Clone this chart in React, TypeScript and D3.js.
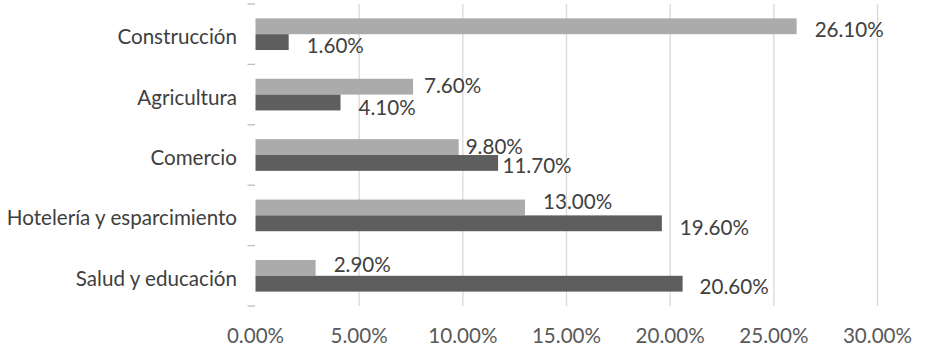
import React from "react";
import * as d3 from "d3";

const categories = ["Construcción", "Agricultura", "Comercio", "Hotelería y esparcimiento", "Salud y educación"];
const seriesLight = [26.1, 7.6, 9.8, 13.0, 2.9];
const seriesDark = [1.6, 4.1, 11.7, 19.6, 20.6];
const xTicks = [0, 5, 10, 15, 20, 25, 30];

// label nudges (layout only)
const lightGap = [18, 11, 7, 18, 18];
const lightDy = [3.3, -0.5, 0, -5.5, -3];
const darkGap = [18, 18, 4.4, 18, 17];
const darkDy = [3.5, 5.5, 3.3, 4.5, 2.8];

const W = 936;
const H = 356;
const FONT = "Lato, 'Open Sans', sans-serif";
const FS = 20.6;

export default function App() {
  const x = d3.scaleLinear().domain([0, 30]).range([255.5, 877.5]);
  const y = d3.scaleBand<string>().domain(categories).range([4, 306]).paddingInner(0).paddingOuter(0);
  const bw = y.bandwidth();
  const barH = bw * 0.262;
  const fmt = (v: number) => v.toFixed(2) + "%";

  return (
    <svg width={W} height={H} style={{ position: "fixed", left: 0, top: 0, background: "#fff" }} fontFamily={FONT}>
      <rect x={0} y={0} width={W} height={H} fill="#fff" />
      {xTicks.filter((t) => t > 0).map((t) => (
        <line key={"g" + t} x1={x(t)} x2={x(t)} y1={4} y2={306} stroke="#d9d9d9" strokeWidth={1.3} />
      ))}
      {d3.range(categories.length + 1).map((i) => {
        const yy = 4 + i * bw;
        return <line key={"t" + i} x1={247.5} x2={255} y1={yy} y2={yy} stroke="#bfbfbf" strokeWidth={1.3} />;
      })}
      {categories.map((c, i) => {
        const cy = (y(c) as number) + bw / 2;
        return (
          <g key={c}>
            <rect x={x(0)} y={cy - barH} width={x(seriesLight[i]) - x(0)} height={barH} fill="#ababab" />
            <rect x={x(0)} y={cy} width={x(seriesDark[i]) - x(0)} height={barH} fill="#5e5e5e" />
            <text x={237} y={cy + 10} textAnchor="end" fontSize={FS} fill="#404040">{c}</text>
            <text x={x(seriesLight[i]) + lightGap[i]} y={cy - barH / 2 + lightDy[i] + 7} fontSize={FS} fill="#404040">
              {fmt(seriesLight[i])}
            </text>
            <text x={x(seriesDark[i]) + darkGap[i]} y={cy + barH / 2 + darkDy[i] + 7} fontSize={FS} fill="#404040">
              {fmt(seriesDark[i])}
            </text>
          </g>
        );
      })}
      {xTicks.map((t) => (
        <text key={"l" + t} x={x(t)} y={343} textAnchor="middle" fontSize={FS} fill="#595959">
          {fmt(t)}
        </text>
      ))}
    </svg>
  );
}
